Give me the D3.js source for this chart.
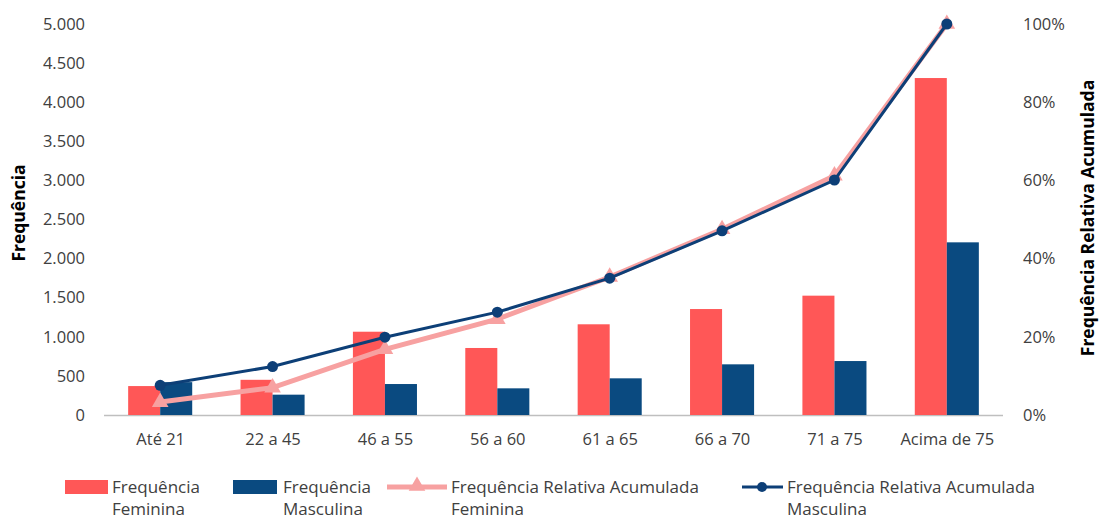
<!DOCTYPE html>
<html><head><meta charset="utf-8">
<script src="https://cdn.jsdelivr.net/npm/d3@7"></script>
<style>body{margin:0;background:#fff}svg{display:block}</style>
</head><body><svg id="c" width="1101" height="519"></svg>
<script>
const categories = ["Até 21","22 a 45","46 a 55","56 a 60","61 a 65","66 a 70","71 a 75","Acima de 75"];
const freqFeminina = [370, 450, 1065, 857, 1160, 1355, 1526, 4309];
const freqMasculina = [420, 260, 396, 341, 469, 648, 690, 2208];
const acumFeminina = [0.033, 0.070, 0.168, 0.245, 0.353, 0.475, 0.612, 1.0];
const acumMasculina = [0.076, 0.124, 0.199, 0.263, 0.350, 0.471, 0.601, 1.0];
const leftTicks = [0,500,1000,1500,2000,2500,3000,3500,4000,4500,5000];
const rightTicks = [0,0.2,0.4,0.6,0.8,1.0];

const svg = d3.select("#c");
const font = "'Open Sans', sans-serif";
const x0 = d3.scaleBand().domain(categories).range([104, 1003]).paddingInner(0.43).paddingOuter(0.215);
const x = d3.scalePoint().domain(categories).range([104, 1003]).padding(0.5);
const y = d3.scaleLinear().domain([0,5000]).range([415,24]);
const y2 = d3.scaleLinear().domain([0,1]).range([415,24]);
const cF = "#FF5757", cM = "#0A4A80", lF = "#F7A1A1", lM = "#0D3F77";

svg.append("line").attr("x1",104).attr("x2",1003).attr("y1",415.5).attr("y2",415.5).attr("stroke","#bfbfbf").attr("stroke-width",1.5);

const fmt = d => d3.format(",")(d).replace(/,/g,".");
const ga = svg.append("g").attr("transform","translate(85,0)")
  .call(d3.axisLeft(y).tickValues(leftTicks).tickFormat(fmt).tickSize(0).tickPadding(0));
ga.select(".domain").remove();
ga.selectAll("text").attr("font-family",font).attr("font-size",16.5).attr("fill","#404040");

const gb = svg.append("g").attr("transform","translate(1023,0)")
  .call(d3.axisRight(y2).tickValues(rightTicks).tickFormat(d3.format(".0%")).tickSize(0).tickPadding(0));
gb.select(".domain").remove();
gb.selectAll("text").attr("font-family",font).attr("font-size",16.5).attr("fill","#404040");

const gx = svg.append("g").attr("transform","translate(0,432)")
  .call(d3.axisBottom(x).tickSize(0).tickPadding(0));
gx.select(".domain").remove();
gx.selectAll("text").attr("font-family",font).attr("font-size",16.5).attr("fill","#404040").attr("dy","0.8em");

svg.append("text").attr("transform","translate(25,213) rotate(-90)").attr("text-anchor","middle")
  .attr("font-family",font).attr("font-weight","bold").attr("font-size",17.5).attr("fill","#000").text("Frequência");
svg.append("text").attr("transform","translate(1094,218) rotate(-90)").attr("text-anchor","middle")
  .attr("font-family",font).attr("font-weight","bold").attr("font-size",17.5).attr("fill","#000").text("Frequência Relativa Acumulada");

const bw = x0.bandwidth()/2;
svg.append("g").selectAll("rect").data(freqFeminina).join("rect")
  .attr("x",(d,i)=>x0(categories[i])).attr("width",bw).attr("y",d=>y(d)).attr("height",d=>y(0)-y(d)).attr("fill",cF);
svg.append("g").selectAll("rect").data(freqMasculina).join("rect")
  .attr("x",(d,i)=>x0(categories[i])+bw).attr("width",bw).attr("y",d=>y(d)).attr("height",d=>y(0)-y(d)).attr("fill",cM);

const line = d3.line().x((d,i)=>x(categories[i])).y(d=>y2(d));
svg.append("path").datum(acumFeminina).attr("d",line).attr("fill","none").attr("stroke",lF).attr("stroke-width",5);
const tri = d3.symbol().type(d3.symbolTriangle).size(120);
svg.append("g").selectAll("path").data(acumFeminina).join("path")
  .attr("d",tri).attr("transform",(d,i)=>`translate(${x(categories[i])},${y2(d)})`).attr("fill",lF);
svg.append("path").datum(acumMasculina).attr("d",line).attr("fill","none").attr("stroke",lM).attr("stroke-width",3);
svg.append("g").selectAll("circle").data(acumMasculina).join("circle")
  .attr("cx",(d,i)=>x(categories[i])).attr("cy",d=>y2(d)).attr("r",5.5).attr("fill",lM);

const lg = svg.append("g").attr("font-family",font).attr("font-size",17).attr("fill","#404040");
function txt(xp, l1, l2){
  lg.append("text").attr("x",xp).attr("y",493).text(l1);
  lg.append("text").attr("x",xp).attr("y",515).text(l2);
}
lg.append("rect").attr("x",65).attr("y",480).attr("width",43).attr("height",14).attr("fill",cF);
txt(112,"Frequência","Feminina");
lg.append("rect").attr("x",233).attr("y",480).attr("width",44).attr("height",14).attr("fill",cM);
txt(283,"Frequência","Masculina");
lg.append("line").attr("x1",387).attr("x2",447).attr("y1",487).attr("y2",487).attr("stroke",lF).attr("stroke-width",5);
lg.append("path").attr("d",tri).attr("transform","translate(417,486)").attr("fill",lF);
txt(451,"Frequência Relativa Acumulada","Feminina");
lg.append("line").attr("x1",742).attr("x2",783).attr("y1",487).attr("y2",487).attr("stroke",lM).attr("stroke-width",3);
lg.append("circle").attr("cx",762).attr("cy",487).attr("r",5).attr("fill",lM);
txt(787,"Frequência Relativa Acumulada","Masculina");
</script></body></html>
